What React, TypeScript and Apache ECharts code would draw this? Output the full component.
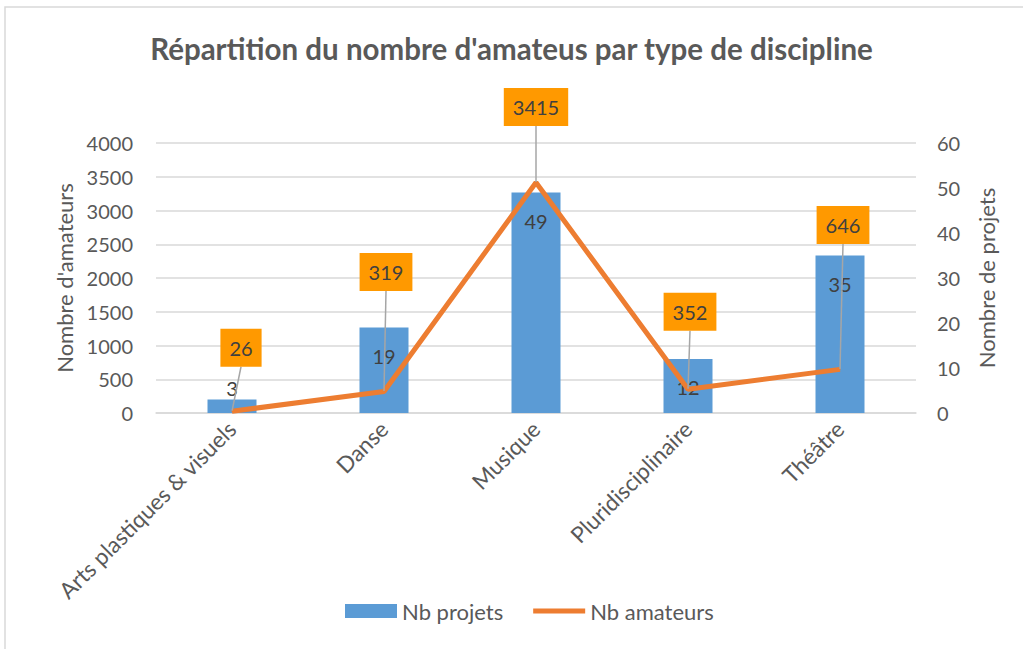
import React, { useEffect, useRef } from "react";
import * as echarts from "echarts";

const categories = ["Arts plastiques & visuels", "Danse", "Musique", "Pluridisciplinaire", "Théâtre"];
const nbProjets = [3, 19, 49, 12, 35];
const nbAmateurs = [26, 319, 3415, 352, 646];
const titleText = "Répartition du nombre d'amateus par type de discipline";
const leftAxisName = "Nombre d'amateurs";
const rightAxisName = "Nombre de projets";

const FONT = 'Lato, "Liberation Sans", sans-serif';
const TXT = "#595959";

export default function App() {
  const ref = useRef<HTMLDivElement>(null);
  useEffect(() => {
    if (!ref.current) return;
    const chart = echarts.init(ref.current, undefined, { renderer: "svg" });
    const labelOffsets = [
      [9, -44],
      [2, -100],
      [0, -56],
      [2, -58],
      [3, -125],
    ];
    chart.setOption({
      animation: false,
      textStyle: { fontFamily: FONT },
      title: {
        text: titleText,
        left: "center",
        top: 28,
        textStyle: { fontFamily: FONT, fontSize: 29.5, fontWeight: "bold", color: TXT },
      },
      graphic: [
        {
          type: "rect",
          shape: { x: 5, y: 7, width: 1040, height: 660 },
          style: { fill: "none", stroke: "#D9D9D9", lineWidth: 1.5 },
          silent: true,
        },
      ],
      grid: { left: 156, right: 107, top: 143, bottom: 236 },
      legend: {
        bottom: 22,
        left: 340,
        itemWidth: 52,
        itemHeight: 14,
        itemGap: 30,
        textStyle: { fontFamily: FONT, fontSize: 22, color: TXT },
        data: [
          { name: "Nb projets", icon: "rect" },
          { name: "Nb amateurs", icon: "path://M0 0H100V10H0Z" },
        ],
      },
      xAxis: {
        type: "category",
        data: categories,
        axisTick: { show: false },
        axisLine: { lineStyle: { color: "#D9D9D9", width: 1.5 } },
        axisLabel: { rotate: 45, fontSize: 22.5, color: TXT, margin: 12, fontFamily: FONT },
      },
      yAxis: [
        {
          type: "value",
          min: 0,
          max: 4000,
          interval: 500,
          name: leftAxisName,
          nameLocation: "middle",
          nameRotate: 90,
          nameGap: 81,
          nameTextStyle: { fontSize: 22, color: TXT, fontFamily: FONT },
          axisLabel: {
            fontSize: 20,
            color: TXT,
            margin: 23,
            fontFamily: FONT,
            formatter: (v: number) => String(v),
          },
          axisLine: { show: false },
          axisTick: { show: false },
          splitLine: { lineStyle: { color: "#D9D9D9", width: 1.5 } },
        },
        {
          type: "value",
          min: 0,
          max: 60,
          interval: 10,
          name: rightAxisName,
          nameLocation: "middle",
          nameRotate: 90,
          nameGap: 59,
          nameTextStyle: { fontSize: 22, color: TXT, fontFamily: FONT },
          axisLabel: { fontSize: 20, color: TXT, margin: 21, fontFamily: FONT },
          axisLine: { show: false },
          axisTick: { show: false },
          splitLine: { show: false },
        },
      ],
      series: [
        {
          name: "Nb projets",
          type: "bar",
          yAxisIndex: 1,
          barWidth: 49,
          itemStyle: { color: "#5B9BD5" },
          data: nbProjets.map((v) => ({
            value: v,
            label: v < 5 ? { position: "top", distance: 2 } : undefined,
          })),
          label: {
            show: true,
            position: "insideTop",
            distance: 18,
            fontSize: 20,
            color: "#404040",
            fontFamily: FONT,
          },
        },
        {
          name: "Nb amateurs",
          type: "line",
          yAxisIndex: 0,
          data: nbAmateurs,
          symbol: "circle",
          symbolSize: 1,
          showSymbol: true,
          lineStyle: { color: "#ED7D31", width: 5 },
          itemStyle: { color: "#ED7D31" },
          label: {
            show: true,
            position: "top",
            distance: 0,
            fontSize: 20,
            lineHeight: 24,
            color: "#404040",
            fontFamily: FONT,
            backgroundColor: "#FF9900",
            padding: [7, 9],
          },
          labelLine: { show: true, lineStyle: { color: "#A6A6A6", width: 1.5 } },
          labelLayout: (params: any) => {
            const o = labelOffsets[params.dataIndex] || [0, 0];
            return { dx: o[0], dy: o[1] };
          },
          z: 3,
        },
      ],
    });
    return () => chart.dispose();
  }, []);
  return (
    <div
      ref={ref}
      style={{ position: "fixed", left: 0, top: 0, width: 1023, height: 649, background: "#fff" }}
    />
  );
}
